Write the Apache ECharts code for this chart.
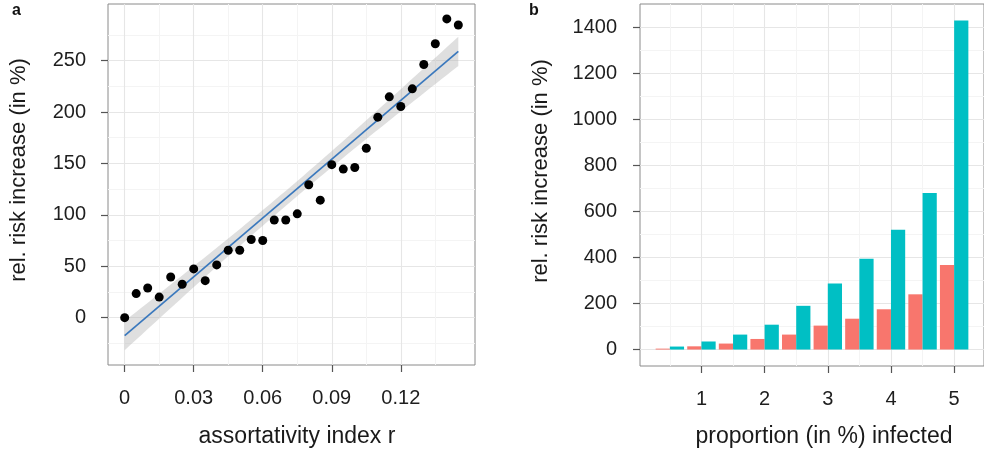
<!DOCTYPE html>
<html><head><meta charset="utf-8">
<script src="https://cdn.jsdelivr.net/npm/echarts@6/dist/echarts.min.js"></script>
<style>html,body{margin:0;padding:0;background:#fff}#c{width:984px;height:455px}</style>
</head><body><div id="c"></div>
<script>
// ---- Panel a data ----
const assortX = [0,0.005,0.01,0.015,0.02,0.025,0.03,0.035,0.04,0.045,0.05,0.055,0.06,0.065,0.07,0.075,0.08,0.085,0.09,0.095,0.1,0.105,0.11,0.115,0.12,0.125,0.13,0.135,0.14,0.145];
const riskA = [0,23.4,28.9,20,39.6,32.5,47.4,36,51.3,65.6,65.6,76,75,95,95,101,129.3,114.3,148.8,144.5,146,164.7,195,214.7,205.3,222.5,246.2,266.4,290.5,284.6];
const xTicksA = [0,0.03,0.06,0.09,0.12];
const yTicksA = [0,50,100,150,200,250];
const xMinorA = [0.015,0.045,0.075,0.105,0.135];
const yMinorA = [-25,25,75,125,175,225,275];
// ---- Panel b data ----
const propX = [0.5,1,1.5,2,2.5,3,3.5,4,4.5,5];
const riskRed = [4,14,26,46,65,104,134,175,240,367];
const riskTeal = [13,35,65,108,190,287,395,521,680,1430];
const xTicksB = [1,2,3,4,5];
const yTicksB = [0,200,400,600,800,1000,1200,1400];
const xMinorB = [0.5,1.5,2.5,3.5,4.5];
const yMinorB = [100,300,500,700,900,1100,1300];

// linear fit with 95% CI (computed from the data)
const n = assortX.length;
const mx = assortX.reduce((a,b)=>a+b,0)/n;
const my = riskA.reduce((a,b)=>a+b,0)/n;
let sxx=0, sxy=0;
for (let i=0;i<n;i++){ sxx += (assortX[i]-mx)**2; sxy += (assortX[i]-mx)*(riskA[i]-my); }
const slope = sxy/sxx, icpt = my - slope*mx;
let sse=0; for (let i=0;i<n;i++){ sse += (riskA[i]-(icpt+slope*assortX[i]))**2; }
const s = Math.sqrt(sse/(n-2));
const tq = 2.0484;
const xLo = Math.min(...assortX), xHi = Math.max(...assortX);
const fitLine = [[xLo, icpt+slope*xLo],[xHi, icpt+slope*xHi]];
const upper=[], lower=[];
for (let k=0;k<=60;k++){
  const x = xLo + (xHi-xLo)*k/60;
  const f = icpt+slope*x;
  const se = s*Math.sqrt(1/n + (x-mx)**2/sxx);
  upper.push([x, f+tq*se]); lower.push([x, f-tq*se]);
}

const FONT = 'Liberation Sans';
const tickCol = '#555';
const majorCol = '#e6e6e6', minorCol = '#f4f4f4';

function majorAxis(grid, min, max, ticks, margin){
  return {
    gridIndex:grid, type:'value', min:min, max:max,
    axisLine:{show:false, onZero:false},
    axisTick:{show:true, length:7, lineStyle:{color:tickCol, width:1.2}, customValues:ticks},
    axisLabel:{customValues:ticks, margin:margin, fontSize:20, color:'#1e1e1e', fontFamily:FONT, formatter:v=>String(v)},
    splitLine:{show:true, lineStyle:{color:majorCol, width:1.1}}
  };
}
function minorAxis(grid, min, max, ticks){
  return {
    gridIndex:grid, type:'value', min:min, max:max,
    axisLine:{show:false, onZero:false},
    axisTick:{show:false, customValues:ticks},
    axisLabel:{show:false},
    splitLine:{show:true, lineStyle:{color:minorCol, width:1}}
  };
}

const chart = echarts.init(document.getElementById('c'), null, {renderer:'canvas'});
const barW = 0.225;
function barRenderer(side, color){
  return function(params, api){
    const x = api.value(0), v = api.value(1);
    const x0 = side < 0 ? x - barW : x;
    const p0 = api.coord([x0, v]);
    const p1 = api.coord([x0 + barW, 0]);
    return {type:'rect', shape:{x:p0[0], y:p0[1], width:p1[0]-p0[0], height:p1[1]-p0[1]}, style:{fill:color}};
  };
}

chart.setOption({
  animation:false,
  backgroundColor:'#fff',
  grid:[
    {left:108, top:4, width:367, height:361, show:true, borderColor:'#8a8a8a', borderWidth:1, backgroundColor:'transparent'},
    {left:640, top:4, width:351, height:362, show:true, borderColor:'#8a8a8a', borderWidth:1, backgroundColor:'transparent'}
  ],
  xAxis:[
    majorAxis(0, -0.00725, 0.15225, xTicksA, 23),
    minorAxis(0, -0.00725, 0.15225, xMinorA),
    majorAxis(1, 0.0275, 5.4725, xTicksB, 23),
    minorAxis(1, 0.0275, 5.4725, xMinorB)
  ],
  yAxis:[
    majorAxis(0, -46, 305, yTicksA, 22),
    minorAxis(0, -46, 305, yMinorA),
    majorAxis(1, -71.5, 1501.5, yTicksB, 23),
    minorAxis(1, -71.5, 1501.5, yMinorB)
  ],
  graphic:[
    {type:'text', left:12, top:3, style:{text:'a', font:'bold 16px "Liberation Sans"', fill:'#111'}},
    {type:'text', left:529, top:3, style:{text:'b', font:'bold 16px "Liberation Sans"', fill:'#111'}},
    {type:'text', x:19, y:170, rotation:Math.PI/2, style:{text:'rel. risk increase (in %)', font:'22px "Liberation Sans"', fill:'#1a1a1a', align:'center', verticalAlign:'middle'}},
    {type:'text', x:541, y:171, rotation:Math.PI/2, style:{text:'rel. risk increase (in %)', font:'22px "Liberation Sans"', fill:'#1a1a1a', align:'center', verticalAlign:'middle'}},
    {type:'text', x:297, y:437, style:{text:'assortativity index r', font:'23px "Liberation Sans"', fill:'#1a1a1a', align:'center', verticalAlign:'middle'}},
    {type:'text', x:824, y:437, style:{text:'proportion (in %) infected', font:'23px "Liberation Sans"', fill:'#1a1a1a', align:'center', verticalAlign:'middle'}}
  ],
  series:[
    {type:'custom', xAxisIndex:0, yAxisIndex:0, data:[[xLo,0]], z:2, silent:true,
      renderItem:function(params, api){
        const pts = upper.map(p=>api.coord(p)).concat(lower.slice().reverse().map(p=>api.coord(p)));
        return {type:'polygon', shape:{points:pts}, style:{fill:'rgba(175,175,175,0.4)'}};
      }},
    {type:'line', xAxisIndex:0, yAxisIndex:0, data:fitLine, showSymbol:false, z:3,
      lineStyle:{color:'#3a78bd', width:1.7}},
    {type:'scatter', xAxisIndex:0, yAxisIndex:0, data:assortX.map((x,i)=>[x, riskA[i]]), symbolSize:9, z:4,
      itemStyle:{color:'#000', opacity:1}},
    {type:'custom', xAxisIndex:2, yAxisIndex:2, data:propX.map((x,i)=>[x, riskRed[i]]), encode:{x:0,y:1}, z:3,
      renderItem:barRenderer(-1, '#F8766D')},
    {type:'custom', xAxisIndex:2, yAxisIndex:2, data:propX.map((x,i)=>[x, riskTeal[i]]), encode:{x:0,y:1}, z:3,
      renderItem:barRenderer(1, '#00BFC4')}
  ]
});
</script>
</body></html>
